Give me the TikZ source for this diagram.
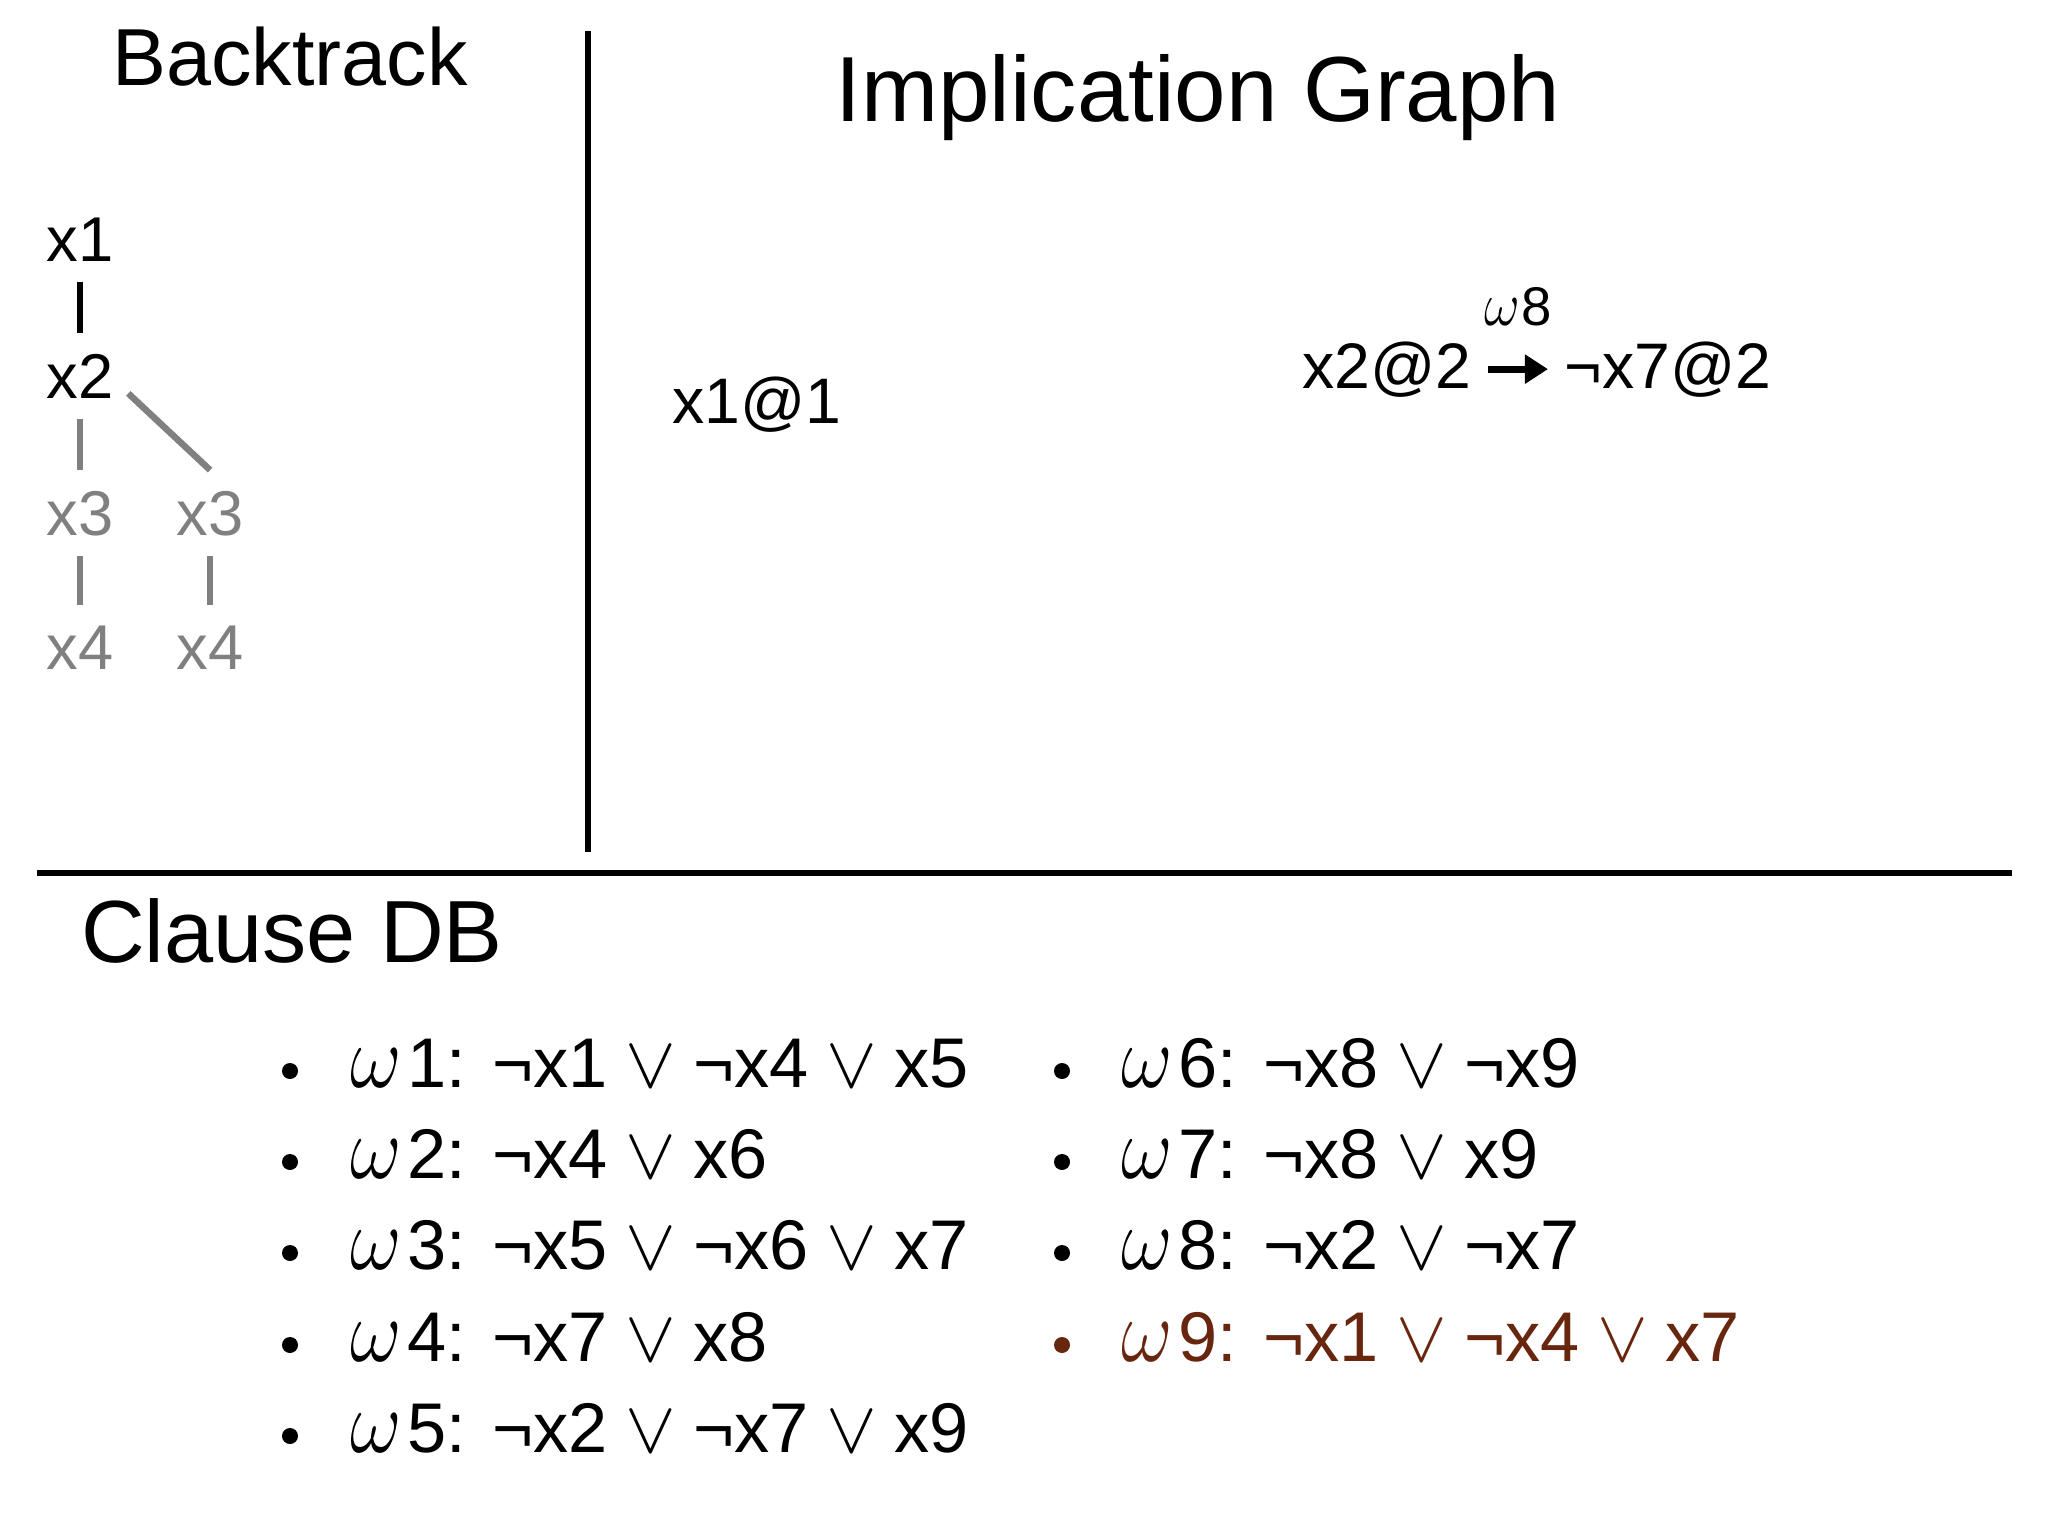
\documentclass[tikz,border=0pt]{standalone}
\usepackage{fontspec}
\usepackage{graphicx}
\setmainfont{Liberation Sans}
\usetikzlibrary{arrows.meta}

\definecolor{fadedgray}{RGB}{128,128,128}
\definecolor{learntbrown}{RGB}{104,38,14}

% disjunction sign and clause names
\newcommand{\disj}{\hspace{0.25em}\resizebox{0.72em}{0.58em}{$\vee$}\hspace{0.25em}}
\newcommand{\om}{\scalebox{1.09}[1.23]{$\omega$}}
\newcommand{\cl}[1]{\om\kern0.08em#1:}

\begin{document}
\begin{tikzpicture}[x=0.01cm, y=-0.01cm,
  heading/.style={anchor=base, inner sep=0},
  treenode/.style={anchor=base west, inner xsep=0.14cm, inner ysep=0.2cm, font=\fontsize{18}{21}\selectfont},
  impnode/.style={anchor=base, inner xsep=0.16cm, inner ysep=0.1cm, font=\fontsize{18.3}{22}\selectfont},
  clause/.style={anchor=base west, inner sep=0, font=\fontsize{20}{24}\selectfont},
  dot/.style={shape=circle, fill=black, inner sep=0, minimum size=0.16cm},
  treeline/.style={line width=0.065cm},
  divider/.style={line width=0.055cm}]
\useasboundingbox (0,0) rectangle (2048,1536);

% panel borders
\coordinate (divtop) at (588,31);
\coordinate (divbot) at (588,852);
\coordinate (sepleft) at (37,873);
\coordinate (sepright) at (2012,873);
\draw[divider] (divtop) -- (divbot);
\draw[divider] (sepleft) -- (sepright);

% headings
\node[heading, font=\fontsize{23}{27}\selectfont] (bt) at (290,85) {Backtrack};
\node[heading, font=\fontsize{26.3}{30}\selectfont] (ig) at (1198,121) {Implication Graph};
\node[heading, font=\fontsize{25.1}{30}\selectfont] (db) at (292,962) {Clause DB};

% backtrack tree
\node[treenode] (x1) at (32,261) {x1};
\node[treenode] (x2) at (32,398) {x2};
\node[treenode, text=fadedgray] (x3a) at (32,535) {x3};
\node[treenode, text=fadedgray] (x3b) at (162,535) {x3};
\node[treenode, text=fadedgray] (x4a) at (32,669) {x4};
\node[treenode, text=fadedgray] (x4b) at (162,669) {x4};
\path [treeline, draw=black] (x1.south -| x2.north) edge (x2.north);
\path [treeline, draw=fadedgray] (x2.south) edge (x3a.north);
\path [treeline, draw=fadedgray] (x2.-20) edge (x3b.north);
\path [treeline, draw=fadedgray] (x3a.south) edge (x4a.north);
\path [treeline, draw=fadedgray] (x3b.south) edge (x4b.north);

% implication graph
\node[impnode] (a1) at (757,423) {x1@1};
\node[impnode] (a2) at (1387,388) {x2@2};
\node[impnode] (a7) at (1668,388) {¬x7@2};
\draw[line width=0.07cm, -{Triangle[length=0.23cm, width=0.28cm]}] (a2) -- (a7)
  node[midway, above=0.4cm, inner sep=0, font=\fontsize{15.5}{18}\selectfont] (w8) {\om\kern0.04em 8};

% clause database
\node[dot] (d1) at (290,1071) {};
\node[dot] (d2) at (290,1162) {};
\node[dot] (d3) at (290,1253) {};
\node[dot] (d4) at (290,1345) {};
\node[dot] (d5) at (290,1436) {};
\node[clause] (c1) at (350,1087) {\cl{1} ¬x1\disj¬x4\disj x5};
\node[clause] (c2) at (350,1178) {\cl{2} ¬x4\disj x6};
\node[clause] (c3) at (350,1269) {\cl{3} ¬x5\disj¬x6\disj x7};
\node[clause] (c4) at (350,1361) {\cl{4} ¬x7\disj x8};
\node[clause] (c5) at (350,1452) {\cl{5} ¬x2\disj¬x7\disj x9};

\node[dot] (d6) at (1062,1071) {};
\node[dot] (d7) at (1062,1162) {};
\node[dot] (d8) at (1062,1253) {};
\node[dot, fill=learntbrown] (d9) at (1062,1345) {};
\node[clause] (c6) at (1121,1087) {\cl{6} ¬x8\disj¬x9};
\node[clause] (c7) at (1121,1178) {\cl{7} ¬x8\disj x9};
\node[clause] (c8) at (1121,1269) {\cl{8} ¬x2\disj¬x7};
\node[clause, text=learntbrown] (c9) at (1121,1361) {\cl{9} ¬x1\disj¬x4\disj x7};
\end{tikzpicture}
\end{document}
